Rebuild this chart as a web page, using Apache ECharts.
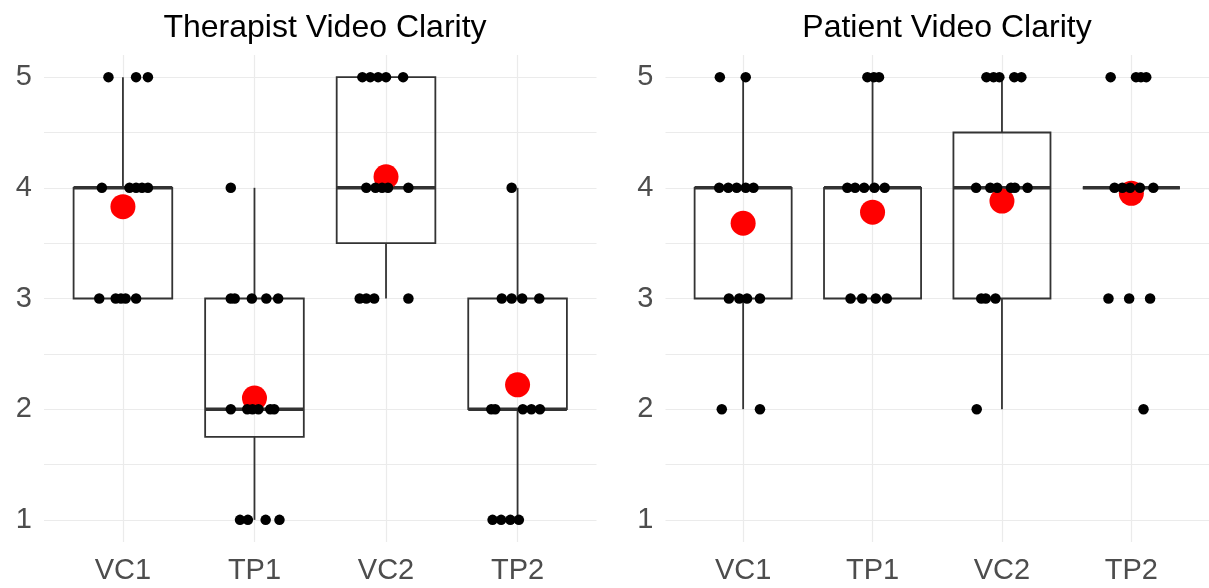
<!DOCTYPE html>
<html>
<head>
<meta charset="utf-8">
<script src="https://cdn.jsdelivr.net/npm/echarts@6/dist/echarts.min.js"></script>
<style>
  html, body { margin: 0; padding: 0; background: #ffffff; }
  #chart { width: 1209px; height: 588px; }
</style>
</head>
<body>
<div id="chart"></div>
<script>
// Categories shared by both panels
const categories = ['VC1', 'TP1', 'VC2', 'TP2'];
const panelTitles = ['Therapist Video Clarity', 'Patient Video Clarity'];
const yTicks = [1, 2, 3, 4, 5];
const yGridValues = [1, 1.5, 2, 2.5, 3, 3.5, 4, 4.5, 5];

// Box summaries per category: [lower whisker, Q1, median, Q3, upper whisker]
const therapistBoxes = [
  [3, 3, 4, 4, 5],
  [1, 1.75, 2, 3, 4],
  [3, 3.5, 4, 5, 5],
  [1, 2, 2, 3, 4]
];
const patientBoxes = [
  [2, 3, 4, 4, 5],
  [3, 3, 4, 4, 5],
  [2, 3, 4, 4.5, 5],
  [4, 4, 4, 4, 4]
];

// Group means (red markers)
const therapistMeans = [3.83, 2.10, 4.10, 2.22];
const patientMeans = [3.68, 3.78, 3.88, 3.95];

// Individual ratings: [horizontal jitter (category units), rating]
const therapistVC1 = [[-0.11,5],[0.10,5],[0.19,5],[-0.16,4],[0.05,4],[0.10,4],[0.145,4],[0.19,4],[-0.18,3],[-0.055,3],[-0.015,3],[0.02,3],[0.10,3]];
const therapistTP1 = [[-0.18,4],[-0.18,3],[-0.15,3],[-0.02,3],[0.09,3],[0.18,3],[-0.18,2],[-0.055,2],[-0.015,2],[0.03,2],[0.12,2],[0.15,2],[-0.11,1],[-0.05,1],[0.085,1],[0.19,1]];
const therapistVC2 = [[-0.18,5],[-0.12,5],[-0.06,5],[0.0,5],[0.13,5],[-0.15,4],[-0.08,4],[-0.03,4],[0.015,4],[0.17,4],[-0.20,3],[-0.15,3],[-0.09,3],[0.17,3]];
const therapistTP2 = [[-0.045,4],[-0.12,3],[-0.045,3],[0.035,3],[0.165,3],[-0.20,2],[-0.17,2],[0.04,2],[0.105,2],[0.17,2],[-0.19,1],[-0.125,1],[-0.055,1],[0.01,1]];

const patientVC1 = [[-0.18,5],[0.02,5],[-0.185,4],[-0.115,4],[-0.05,4],[0.02,4],[0.08,4],[-0.11,3],[-0.03,3],[0.03,3],[0.13,3],[-0.165,2],[0.13,2]];
const patientTP1 = [[-0.04,5],[0.01,5],[0.05,5],[-0.195,4],[-0.135,4],[-0.065,4],[0.014,4],[0.094,4],[-0.17,3],[-0.08,3],[0.025,3],[0.11,3]];
const patientVC2 = [[-0.12,5],[-0.065,5],[-0.02,5],[0.095,5],[0.15,5],[-0.20,4],[-0.09,4],[-0.037,4],[0.07,4],[0.10,4],[0.198,4],[-0.16,3],[-0.125,3],[-0.05,3],[-0.195,2]];
const patientTP2 = [[-0.16,5],[0.036,5],[0.074,5],[0.115,5],[-0.13,4],[-0.07,4],[-0.01,4],[0.066,4],[0.17,4],[-0.177,3],[-0.017,3],[0.145,3],[0.094,2]];

const therapistPoints = [therapistVC1, therapistTP1, therapistVC2, therapistTP2];
const patientPoints = [patientVC1, patientTP1, patientVC2, patientTP2];

const FONT = "'Liberation Sans', Arial, sans-serif";
const BOX_WIDTH = 0.75;
const BOX_COLOR = '#333333';
const GRID_COLOR = '#ebebeb';

function boxRows(boxes) {
  return boxes.map((b, i) => [i + 1].concat(b));
}
function meanRows(means) {
  return means.map((m, i) => [i + 1, m]);
}
function pointRows(groups) {
  const rows = [];
  groups.forEach((pts, i) => pts.forEach(p => rows.push([i + 1 + p[0], p[1]])));
  return rows;
}

// Box with whiskers (no end caps), thick median bar
function renderBox(params, api) {
  const x = api.value(0);
  const lo = api.value(1), q1 = api.value(2), med = api.value(3), q3 = api.value(4), hi = api.value(5);
  const half = api.size([BOX_WIDTH, 0])[0] / 2;
  const pLo = api.coord([x, lo]);
  const pQ1 = api.coord([x, q1]);
  const pMed = api.coord([x, med]);
  const pQ3 = api.coord([x, q3]);
  const pHi = api.coord([x, hi]);
  const stroke = { stroke: BOX_COLOR, lineWidth: 1.8, fill: null };
  return {
    type: 'group',
    children: [
      { type: 'line', shape: { x1: pLo[0], y1: pLo[1], x2: pQ1[0], y2: pQ1[1] }, style: stroke },
      { type: 'line', shape: { x1: pQ3[0], y1: pQ3[1], x2: pHi[0], y2: pHi[1] }, style: stroke },
      { type: 'rect', shape: { x: pMed[0] - half, y: pQ3[1], width: half * 2, height: pQ1[1] - pQ3[1] }, style: stroke },
      { type: 'line', shape: { x1: pMed[0] - half, y1: pMed[1], x2: pMed[0] + half, y2: pMed[1] },
        style: { stroke: BOX_COLOR, lineWidth: 3.4 } }
    ]
  };
}

const grids = [
  { left: 44, top: 55, width: 552.5, height: 487 },
  { left: 665.5, top: 55, width: 552.5, height: 487 }
];

function xAxisFor(gi) {
  return {
    type: 'value', gridIndex: gi, min: 0.4, max: 4.6,
    axisLine: { show: false },
    axisTick: { show: false, customValues: [1, 2, 3, 4] },
    axisLabel: {
      customValues: [1, 2, 3, 4],
      formatter: v => categories[Math.round(v) - 1],
      color: '#4d4d4d', fontSize: 29, fontFamily: FONT, margin: 14
    },
    splitLine: { show: true, lineStyle: { color: GRID_COLOR, width: 1.2 } }
  };
}
function yAxisFor(gi) {
  return {
    type: 'value', gridIndex: gi, min: 0.8, max: 5.2,
    axisLine: { show: false },
    axisTick: { show: false, customValues: yGridValues },
    axisLabel: {
      customValues: yTicks,
      color: '#4d4d4d', fontSize: 29, fontFamily: FONT, margin: 12
    },
    splitLine: { show: true, lineStyle: { color: GRID_COLOR, width: 1.2 } }
  };
}

function panelSeries(gi, boxes, means, points) {
  return [
    {
      type: 'custom', xAxisIndex: gi, yAxisIndex: gi, z: 2,
      renderItem: renderBox,
      encode: { x: 0, y: [1, 2, 3, 4, 5] },
      data: boxRows(boxes)
    },
    {
      type: 'scatter', xAxisIndex: gi, yAxisIndex: gi, z: 3,
      symbol: 'circle', symbolSize: 25,
      itemStyle: { color: '#ff0000', opacity: 1 },
      data: meanRows(means)
    },
    {
      type: 'scatter', xAxisIndex: gi, yAxisIndex: gi, z: 4,
      symbol: 'circle', symbolSize: 10.5,
      itemStyle: { color: '#000000', opacity: 1 },
      data: pointRows(points)
    }
  ];
}

const chart = echarts.init(document.getElementById('chart'), null, { renderer: 'canvas' });
chart.setOption({
  animation: false,
  backgroundColor: '#ffffff',
  title: [
    { text: panelTitles[0], left: 320, top: 7, textAlign: 'center',
      textStyle: { fontFamily: FONT, fontSize: 32, fontWeight: 'normal', color: '#000000' } },
    { text: panelTitles[1], left: 942, top: 7, textAlign: 'center',
      textStyle: { fontFamily: FONT, fontSize: 32, fontWeight: 'normal', color: '#000000' } }
  ],
  grid: grids,
  xAxis: [xAxisFor(0), xAxisFor(1)],
  yAxis: [yAxisFor(0), yAxisFor(1)],
  series: panelSeries(0, therapistBoxes, therapistMeans, therapistPoints)
    .concat(panelSeries(1, patientBoxes, patientMeans, patientPoints))
});
</script>
</body>
</html>
